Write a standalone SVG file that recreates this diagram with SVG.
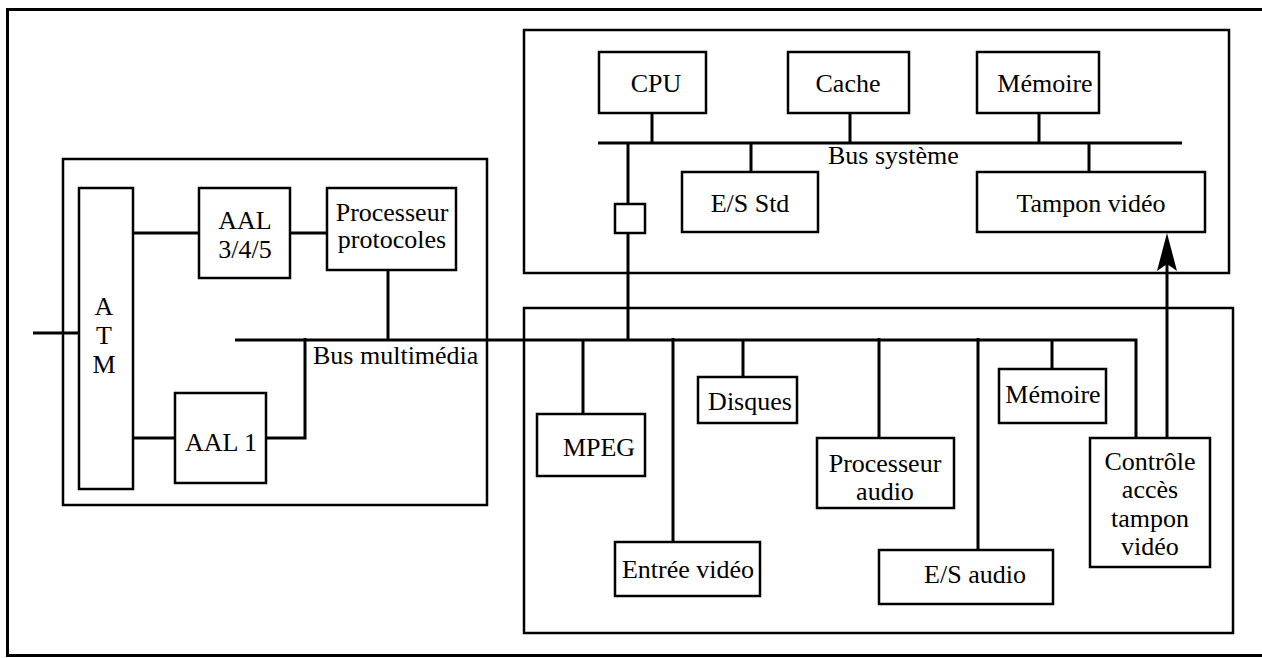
<svg xmlns="http://www.w3.org/2000/svg" width="1262" height="658" viewBox="0 0 1262 658">
<style>
.box{fill:#fff;stroke:#000;stroke-width:2.5}
.frame{fill:none;stroke:#000;stroke-width:3}
.ln{fill:none;stroke:#000;stroke-width:3}
text{font-family:"Liberation Serif","Times New Roman",serif;font-size:26px;fill:#000;text-anchor:middle}
.l{text-anchor:start}
</style>
<rect width="1262" height="658" fill="#fff"/>
<path class="frame" d="M1270,9.5 H7.5 V655.5 H1270"/>
<g id="atm-module"><rect class="box" x="63" y="159" width="424" height="346"/></g>
<g id="system-module"><rect class="box" x="524" y="30" width="705" height="243"/></g>
<g id="multimedia-module"><rect class="box" x="524" y="308" width="709" height="325"/></g>
<g id="connectors">
<path class="ln" d="M33,333 H79"/>
<path class="ln" d="M129,233 H199 M290,233 H327"/>
<path class="ln" d="M129,438 H175 M266,438 H305 V338"/>
<path class="ln" d="M388,270 V340"/>
<path class="ln" d="M235,340 H1136 V438"/>
<path class="ln" d="M598,143 H1182"/>
<path class="ln" d="M652,113 V143 M850,113 V143 M1039,113 V143 M751,143 V172 M1089,143 V172"/>
<path class="ln" d="M628,143 V204 M628,233 V340"/>
<path class="ln" d="M583,340 V414 M673,338 V542 M743,340 V377 M879,338 V438 M978,338 V550 M1052,340 V369"/>
<path class="ln" d="M1167,438 V262"/>
<path d="M1167,233 L1157,271 L1167,264 L1177,271 Z" fill="#000"/>
<text class="l" x="313" y="364">Bus multimédia</text>
<text class="l" x="828" y="164">Bus système</text>
</g>
<g id="atm"><rect class="box" x="79" y="188" width="54" height="301"/>
<text x="104" y="315">A</text><text x="104" y="344">T</text><text x="104" y="373">M</text></g>
<g id="aal345"><rect class="box" x="199" y="188" width="91" height="90"/>
<text x="245" y="229">AAL</text><text x="245" y="258">3/4/5</text></g>
<g id="proc-protocoles"><rect class="box" x="327" y="188" width="129" height="82"/>
<text x="392" y="221">Processeur</text><text x="392" y="248">protocoles</text></g>
<g id="aal1"><rect class="box" x="175" y="393" width="91" height="90"/>
<text x="221" y="451">AAL 1</text></g>
<g id="cpu"><rect class="box" x="599" y="52" width="107" height="61"/><text x="656" y="92">CPU</text></g>
<g id="cache"><rect class="box" x="788" y="52" width="121" height="61"/><text x="848" y="92">Cache</text></g>
<g id="memoire-sys"><rect class="box" x="977" y="52" width="122" height="61"/><text x="1045" y="92">Mémoire</text></g>
<g id="es-std"><rect class="box" x="682" y="172" width="136" height="60"/><text x="750" y="212">E/S Std</text></g>
<g id="tampon-video"><rect class="box" x="977" y="172" width="228" height="60"/><text x="1091" y="212">Tampon vidéo</text></g>
<g id="bridge"><rect class="box" x="615" y="204" width="30" height="29"/></g>
<g id="mpeg"><rect class="box" x="537" y="414" width="108" height="62"/><text x="599" y="456">MPEG</text></g>
<g id="entree-video"><rect class="box" x="615" y="542" width="145" height="54"/><text x="688" y="578">Entrée vidéo</text></g>
<g id="disques"><rect class="box" x="698" y="377" width="99" height="46"/><text x="750" y="410">Disques</text></g>
<g id="proc-audio"><rect class="box" x="817" y="438" width="137" height="70"/>
<text x="885" y="472">Processeur</text><text x="885" y="500">audio</text></g>
<g id="es-audio"><rect class="box" x="879" y="550" width="174" height="54"/><text x="975" y="583">E/S audio</text></g>
<g id="memoire-mm"><rect class="box" x="999" y="369" width="107" height="54"/><text x="1053" y="403">Mémoire</text></g>
<g id="controle"><rect class="box" x="1090" y="438" width="120" height="129"/>
<text x="1150" y="470">Contrôle</text><text x="1150" y="498">accès</text><text x="1150" y="527">tampon</text><text x="1150" y="555">vidéo</text></g>
</svg>
